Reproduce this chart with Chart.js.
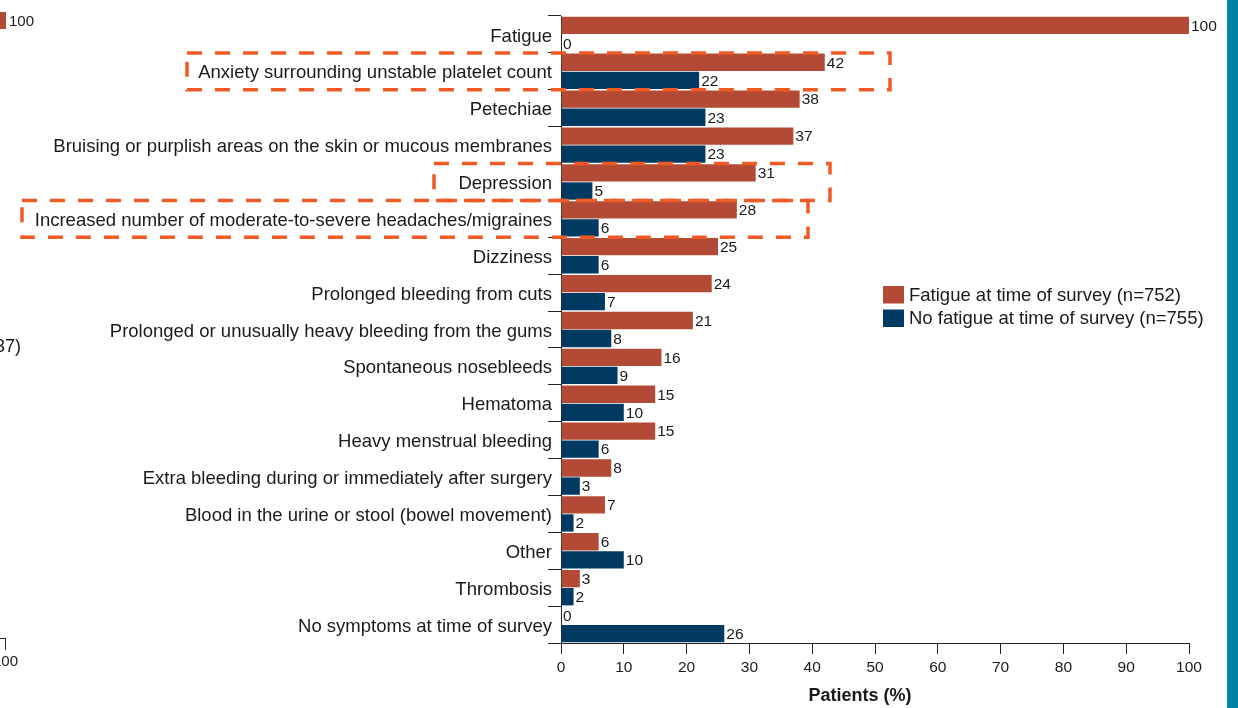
<!DOCTYPE html>
<html>
<head>
<meta charset="utf-8">
<script src="https://cdn.jsdelivr.net/npm/chart.js@4"></script>
<style>
  html, body { margin: 0; padding: 0; background: #fff; }
  .wrap { position: relative; width: 1238px; height: 708px; overflow: hidden; font-family: "Liberation Sans", Arial, sans-serif; color: #1a1a1a; }
  .stripe { position: absolute; left: 1227px; top: 0; width: 11px; height: 708px; background: #0083a5; }
  .frag { position: absolute; white-space: nowrap; }
</style>
</head>
<body>
<div class="wrap">
  <canvas id="symptomsChart" width="1238" height="708"></canvas>
  <div class="stripe"></div>
  <!-- edge of the neighbouring panel -->
  <div class="frag" style="left:0;top:12px;width:6px;height:17px;background:#b34a36;"></div>
  <div class="frag" style="left:9px;top:12px;font-size:15px;">100</div>
  <div class="frag" style="left:-5px;top:336px;font-size:18px;">37)</div>
  <div class="frag" style="left:0;top:638px;width:6px;height:12px;border-top:1px solid #222;border-right:1px solid #222;box-sizing:border-box;"></div>
  <div class="frag" style="left:-7px;top:652px;font-size:15px;">100</div>
</div>
<script>
const categories = [
    'Fatigue',
    'Anxiety surrounding unstable platelet count',
    'Petechiae',
    'Bruising or purplish areas on the skin or mucous membranes',
    'Depression',
    'Increased number of moderate-to-severe headaches/migraines',
    'Dizziness',
    'Prolonged bleeding from cuts',
    'Prolonged or unusually heavy bleeding from the gums',
    'Spontaneous nosebleeds',
    'Hematoma',
    'Heavy menstrual bleeding',
    'Extra bleeding during or immediately after surgery',
    'Blood in the urine or stool (bowel movement)',
    'Other',
    'Thrombosis',
    'No symptoms at time of survey'
];
const fatigueValues = [100, 42, 38, 37, 31, 28, 25, 24, 21, 16, 15, 15, 8, 7, 6, 3, 0];
const noFatigueValues = [0, 22, 23, 23, 5, 6, 6, 7, 8, 9, 10, 6, 3, 2, 10, 2, 26];
const xTicks = [0, 10, 20, 30, 40, 50, 60, 70, 80, 90, 100];

const FONT = '"Liberation Sans", Arial, sans-serif';
const RED = '#b34a36';
const BLUE = '#003a63';
const ORANGE = '#f05a24';

// dashed outlines around the highlighted rows
const highlights = [
    { label: 'Anxiety surrounding unstable platelet count', left: 187, right: 890 },
    { label: 'Depression', left: 434, right: 830 },
    { label: 'Increased number of moderate-to-severe headaches/migraines', left: 22, right: 808 }
];

// numbers at the end of each bar
const valueLabels = {
    id: 'valueLabels',
    afterDatasetsDraw(chart) {
        const ctx = chart.ctx;
        ctx.save();
        ctx.font = '15.5px ' + FONT;
        ctx.fillStyle = '#1a1a1a';
        ctx.textBaseline = 'middle';
        chart.data.datasets.forEach((ds, i) => {
            chart.getDatasetMeta(i).data.forEach((bar, j) => {
                ctx.fillText(String(ds.data[j]), bar.x + 2, bar.y + 1);
            });
        });
        ctx.restore();
    }
};

const highlightBoxes = {
    id: 'highlightBoxes',
    afterDraw(chart) {
        const ctx = chart.ctx;
        const y = chart.scales.y;
        const band = (chart.chartArea.bottom - chart.chartArea.top) / categories.length;
        ctx.save();
        ctx.strokeStyle = ORANGE;
        ctx.lineWidth = 3.5;
        ctx.setLineDash([15, 13]);
        highlights.forEach(h => {
            const mid = y.getPixelForValue(categories.indexOf(h.label));
            ctx.strokeRect(h.left, mid - band / 2, h.right - h.left, band);
        });
        ctx.restore();
    }
};

// legend beside the bars and the x axis title
const sideLegend = {
    id: 'sideLegend',
    afterDraw(chart) {
        const ctx = chart.ctx;
        ctx.save();
        ctx.font = '18.5px ' + FONT;
        ctx.textBaseline = 'middle';
        chart.data.datasets.forEach((ds, i) => {
            const top = 286 + i * 23.5;
            ctx.fillStyle = ds.backgroundColor;
            ctx.fillRect(883, top, 21, 17.5);
            ctx.fillStyle = '#1a1a1a';
            ctx.fillText(ds.label, 909, top + 9.5);
        });
        ctx.font = 'bold 18px ' + FONT;
        ctx.textAlign = 'center';
        ctx.fillText('Patients (%)', 860, 696);
        ctx.restore();
    }
};

const ctx = document.getElementById('symptomsChart').getContext('2d');
const symptomsChart = new Chart(ctx, {
    type: 'bar',
    data: {
        labels: categories,
        datasets: [{
            label: 'Fatigue at time of survey (n=752)',
            data: fatigueValues,
            backgroundColor: RED,
            categoryPercentage: 0.98,
            barPercentage: 0.96
        }, {
            label: 'No fatigue at time of survey (n=755)',
            data: noFatigueValues,
            backgroundColor: BLUE,
            categoryPercentage: 0.98,
            barPercentage: 0.96
        }]
    },
    options: {
        indexAxis: 'y',
        responsive: false,
        animation: false,
        layout: { padding: { top: 16, right: 49, left: 0, bottom: 0 } },
        plugins: {
            legend: { display: false },
            tooltip: { enabled: false }
        },
        scales: {
            y: {
                type: 'category',
                offset: true,
                afterFit(scale) { scale.width = 561; },
                border: { color: '#222', width: 1 },
                grid: { offset: true, drawOnChartArea: false, tickLength: 13, color: '#222' },
                ticks: {
                    padding: -4,
                    labelOffset: 2,
                    autoSkip: false,
                    color: '#1a1a1a',
                    font: { family: FONT, size: 18.5 }
                }
            },
            x: {
                min: 0,
                max: 100,
                afterFit(scale) { scale.height = 65; },
                afterBuildTicks(scale) { scale.ticks = xTicks.map(v => ({ value: v })); },
                border: { color: '#222', width: 1 },
                grid: { drawOnChartArea: false, tickLength: 11, color: '#222' },
                ticks: {
                    padding: 4,
                    color: '#1a1a1a',
                    font: { family: FONT, size: 15.5 }
                }
            }
        }
    },
    plugins: [valueLabels, highlightBoxes, sideLegend]
});
</script>
</body>
</html>
